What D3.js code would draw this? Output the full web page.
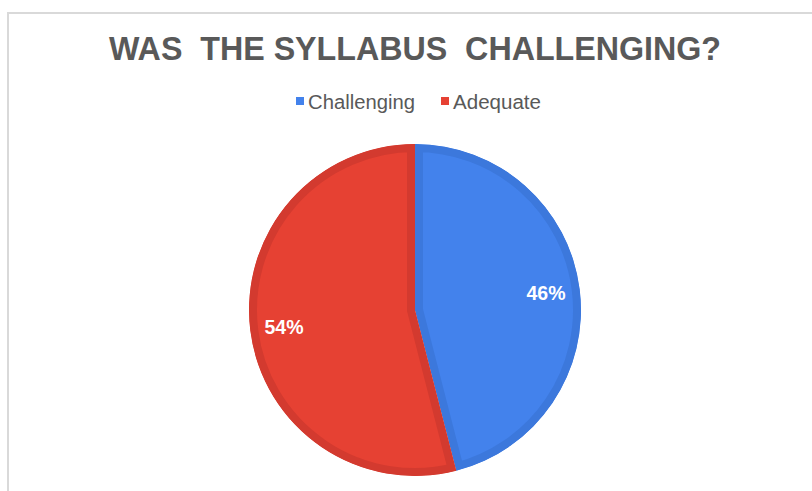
<!DOCTYPE html>
<html>
<head>
<meta charset="utf-8">
<script src="https://cdn.jsdelivr.net/npm/d3@7"></script>
<style>
  body { margin: 0; background: #fff; }
  svg { display: block; font-family: "Liberation Sans", Arial, sans-serif; }
</style>
</head>
<body>
<div id="chart"></div>
<script>
// data
var categories = ["Challenging", "Adequate"];
var shares = [46, 54];
var fills = ["#4382ec", "#e64133"];
var edges = ["#3c78dc", "#d33a2f"];

var svgWidth = 812;
var svgHeight = 491;
var radius = 166;
var cx = 415, cy = 310;

var svg = d3.select("#chart")
  .append("svg")
  .attr("width", svgWidth)
  .attr("height", svgHeight);

// chart frame (only left and top edges are visible in the crop)
svg.append("rect")
  .attr("x", 8)
  .attr("y", 13)
  .attr("width", 900)
  .attr("height", 600)
  .attr("fill", "none")
  .attr("stroke", "#d9d9d9")
  .attr("stroke-width", 2);

// title (keep the wide gaps between words)
svg.append("text")
  .attr("x", 415)
  .attr("y", 60)
  .attr("text-anchor", "middle")
  .attr("font-size", 33)
  .attr("font-weight", "bold")
  .attr("fill", "#595959")
  .style("white-space", "pre")
  .attr("textLength", 612)
  .attr("lengthAdjust", "spacingAndGlyphs")
  .text("WAS  THE SYLLABUS  CHALLENGING?");

// legend
var legendX = [296, 441];
var legend = svg.selectAll(".legend")
  .data(categories)
  .enter()
  .append("g")
  .attr("class", "legend")
  .attr("transform", (d, i) => `translate(${legendX[i]}, 101)`);

legend.append("rect")
  .attr("x", 0)
  .attr("y", -4)
  .attr("width", 8)
  .attr("height", 8)
  .attr("fill", (d, i) => fills[i]);

legend.append("text")
  .attr("x", 12)
  .attr("y", 8)
  .attr("font-size", 20)
  .attr("fill", "#595959")
  .attr("textLength", (d, i) => [107, 88][i])
  .attr("lengthAdjust", "spacingAndGlyphs")
  .text(d => d);

// pie
var pie = d3.pie().sort(null).value(d => d);
var arc = d3.arc().innerRadius(0).outerRadius(radius);
var labelArc = d3.arc().innerRadius(132).outerRadius(132);

var pieGroup = svg.append("g")
  .attr("transform", `translate(${cx}, ${cy})`);

var slices = pie(shares);

var defs = svg.append("defs");
defs.selectAll("clipPath")
  .data(slices)
  .enter()
  .append("clipPath")
  .attr("id", (d, i) => "clip" + i)
  .append("path")
  .attr("d", arc);

// each slice carries a darker inner edge of its own hue
pieGroup.selectAll(".slice")
  .data(slices)
  .enter()
  .append("path")
  .attr("class", "slice")
  .attr("d", arc)
  .attr("fill", (d, i) => fills[i])
  .attr("stroke", (d, i) => edges[i])
  .attr("stroke-width", 16)
  .attr("stroke-linejoin", "miter")
  .attr("clip-path", (d, i) => `url(#clip${i})`);

pieGroup.selectAll(".label")
  .data(slices)
  .enter()
  .append("text")
  .attr("class", "label")
  .attr("transform", d => `translate(${labelArc.centroid(d)})`)
  .attr("text-anchor", "middle")
  .attr("dy", "0.36em")
  .attr("font-size", 19.5)
  .attr("font-weight", "bold")
  .attr("fill", "#fff")
  .text(d => d.data + "%");
</script>
</body>
</html>
